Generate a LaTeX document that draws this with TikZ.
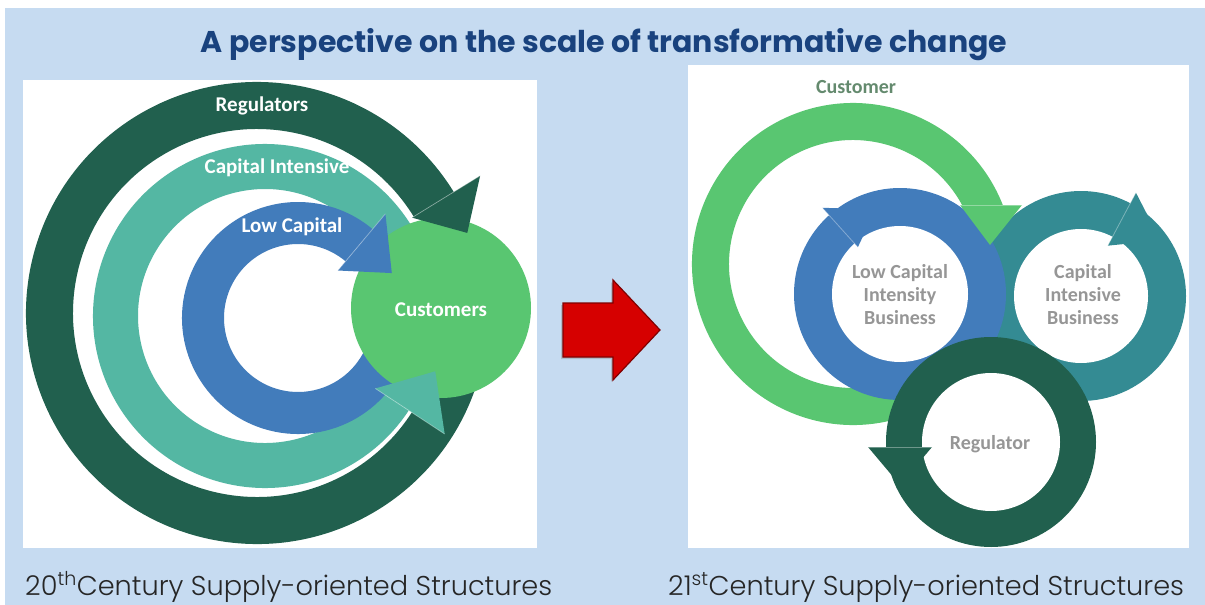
\documentclass[tikz,border=0pt]{standalone}
\usepackage{fontspec}
\setmainfont{Poppins}
\newfontfamily\calfont{Carlito}
\newfontfamily\capfont{Poppins Light}
\usetikzlibrary{shadows}
\definecolor{bgblue}{RGB}{198,219,241}
\definecolor{titleblue}{RGB}{25,66,126}
\definecolor{regcol}{RGB}{33,96,78}
\definecolor{capcol}{RGB}{84,183,163}
\definecolor{lowcol}{RGB}{66,124,187}
\definecolor{custcol}{RGB}{89,198,113}
\definecolor{capbiz}{RGB}{52,139,147}
\definecolor{labgray}{RGB}{150,150,150}
\definecolor{custlab}{RGB}{100,138,110}
\definecolor{arrowred}{RGB}{214,0,0}
\begin{document}
\begin{tikzpicture}[x=1pt,y=-1pt,
  whitelab/.style={text=white,font=\calfont\bfseries\fontsize{21}{23}\selectfont},
  graylab/.style={text=labgray,align=center,font=\calfont\bfseries\fontsize{20}{23}\selectfont},
  caption/.style={anchor=base west,inner sep=0pt,text=black!85,font=\capfont\fontsize{27.2}{30}\selectfont},
  tipbase/.style={draw=white,draw opacity=0.35,line width=0.8pt}]
\useasboundingbox (0,0) rectangle (1205,605);
\fill[white] (0,0) rectangle (1205,605);
\fill[bgblue] (5,8) rectangle (1205,605);
\fill[white] (23,80) rectangle (537,548);
\fill[white] (688,65) rectangle (1189,548);
\node[anchor=base,inner sep=0pt,text=titleblue,font=\bfseries\fontsize{30}{34}\selectfont] (title) at (604,52) {A perspective on the scale of transformative change};

% 20th century: three arcs round the customers
\begin{scope}[shift={(257,313)}]
\fill[regcol] (15:231) arc[start angle=15,end angle=328.4,radius=231] -- (328.4:184) arc[start angle=328.4,end angle=15,radius=184] -- cycle;
\end{scope}
\begin{scope}[shift={(265,316)}]
\fill[capcol] (-30:172) arc[start angle=-30,end angle=-326.7,radius=172] -- (-326.7:127) arc[start angle=-326.7,end angle=-30,radius=127] -- cycle;
\end{scope}
\begin{scope}[shift={(298,318)}]
\fill[lowcol] (20:116) arc[start angle=20,end angle=310,radius=116] -- (310:74) arc[start angle=310,end angle=20,radius=74] -- cycle;
\end{scope}
\fill[custcol] (441,308) circle[radius=90];
\begin{scope}[shift={(257,313)}]
\fill[regcol] (-31.6:182) -- (-31.6:262) -- (-20.85:225) -- cycle;
\draw[tipbase] (-31.6:182) -- (-31.6:262);
\end{scope}
\begin{scope}[shift={(265,316)}]
\fill[capcol] (33.3:132) -- (33.3:215) -- (18:179) -- cycle;
\draw[tipbase] (33.3:132) -- (33.3:215);
\end{scope}
\begin{scope}[shift={(298,318)}]
\fill[lowcol] (-50:62) -- (-50:136) -- (-25.6:104) -- cycle;
\draw[tipbase] (-50:62) -- (-50:136);
\end{scope}
\node[whitelab] (regulators) at (262,106) {Regulators};
\node[whitelab] (capint) at (277,168) {Capital Intensive};
\node[whitelab] (lowcap) at (292,227) {Low Capital};
\node[whitelab] (customers) at (441,310) {Customers};

% red arrow
\filldraw[fill=arrowred,draw=arrowred!60!black,line width=1.2pt,line join=miter,
  drop shadow={shadow xshift=-2pt,shadow yshift=-2pt,opacity=0.35}]
  (563,303) -- (613,303) -- (613,280) -- (660,330) -- (613,380) -- (613,357) -- (563,357) -- cycle;

% 21st century: customer arc and three rings
\begin{scope}[shift={(853,264)}]
\fill[custcol] (70:161) arc[start angle=70,end angle=338.5,radius=161] -- (331.6:124) arc[start angle=331.6,end angle=70,radius=124] -- cycle;
\end{scope}
\fill[capbiz] (1081,296) circle[radius=105];
\fill[white] (1081,296) circle[radius=67];
\fill[lowcol] (900,294) circle[radius=106];
\fill[white] (900,294) circle[radius=68];
\fill[regcol] (991,442) circle[radius=105];
\fill[white] (991,442) circle[radius=69];
\fill[custcol] (960,205) -- (1022,205) -- (990,245) -- cycle;
\draw[tipbase] (960,205) -- (1022,205);
\begin{scope}[shift={(900,294)}]
\fill[lowcol] (-132:63) -- (-132:116) -- (-106:88) -- cycle;
\draw[tipbase] (-132:63) -- (-132:116);
\end{scope}
\begin{scope}[shift={(1081,296)}]
\fill[capbiz] (-62:57) -- (-62:117) -- (-35:97) -- cycle;
\draw[tipbase] (-62:57) -- (-62:117);
\end{scope}
\fill[regcol] (868,447) -- (932,447) -- (900,485) -- cycle;
\draw[tipbase] (868,447) -- (932,447);
\node[graylab,text=custlab] (customer) at (856,87) {Customer};
\node[graylab] (lowbiz) at (900,295) {Low Capital\\Intensity\\Business};
\node[graylab] (capbizlab) at (1083,295) {Capital\\Intensive\\Business};
\node[graylab] (regulator) at (990,444) {Regulator};

\node[caption] (cap20) at (25,595) {20\textsuperscript{th}Century Supply-oriented Structures};
\node[caption] (cap21) at (668,595) {21\textsuperscript{st}Century Supply-oriented Structures};
\end{tikzpicture}
\end{document}
